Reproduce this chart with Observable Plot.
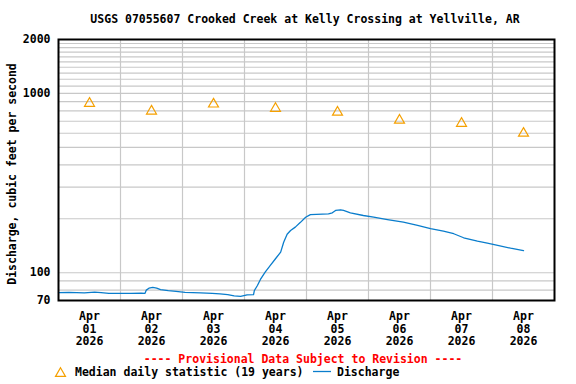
<!DOCTYPE html>
<html>
<head>
<meta charset="utf-8">
<script src="https://cdn.jsdelivr.net/npm/d3@7"></script>
<script src="https://cdn.jsdelivr.net/npm/@observablehq/plot@0.6"></script>
<style>
  html, body { margin: 0; padding: 0; background: #fff; }
  svg { display: block; }
</style>
</head>
<body>
<div id="chart"></div>
<script>
const titleText = "USGS 07055607 Crooked Creek at Kelly Crossing at Yellville, AR";
const yLabelText = "Discharge, cubic feet per second";
const footerText = "---- Provisional Data Subject to Revision ----";
const legendMedian = "Median daily statistic (19 years)";
const legendDischarge = "Discharge";

const dayLabels = ["2026-04-01","2026-04-02","2026-04-03","2026-04-04","2026-04-05","2026-04-06","2026-04-07","2026-04-08"];
const medianValues = [896, 811, 888, 840, 800, 722, 693, 610];

const yTickValues = [70, 100, 1000, 2000];
const yGridValues = [80, 90, 100, 200, 300, 400, 500, 600, 700, 800, 900, 1000,
  1100, 1200, 1300, 1400, 1500, 1600, 1700, 1800, 1900];
const xGridDays = ["2026-04-02","2026-04-03","2026-04-04","2026-04-05","2026-04-06","2026-04-07","2026-04-08"];

const dischargeTimes = [
  "2026-04-01T00:00","2026-04-01T04:00","2026-04-01T10:00","2026-04-01T14:00","2026-04-01T16:30",
  "2026-04-01T19:30","2026-04-02T00:00","2026-04-02T04:00","2026-04-02T08:00","2026-04-02T09:30",
  "2026-04-02T10:00","2026-04-02T11:00","2026-04-02T12:30","2026-04-02T14:00","2026-04-02T15:30",
  "2026-04-02T18:30","2026-04-02T21:30","2026-04-03T01:00","2026-04-03T07:00","2026-04-03T11:30",
  "2026-04-03T14:30","2026-04-03T17:30","2026-04-03T20:00","2026-04-03T22:30","2026-04-04T01:00",
  "2026-04-04T03:30","2026-04-04T03:50","2026-04-04T05:00","2026-04-04T06:10","2026-04-04T08:00",
  "2026-04-04T10:00","2026-04-04T12:00","2026-04-04T14:00","2026-04-04T15:10","2026-04-04T16:30",
  "2026-04-04T17:50","2026-04-04T19:40","2026-04-04T21:40","2026-04-04T23:40","2026-04-05T01:30",
  "2026-04-05T08:30","2026-04-05T10:00","2026-04-05T11:15","2026-04-05T13:10","2026-04-05T14:20",
  "2026-04-05T17:00","2026-04-05T22:00","2026-04-06T02:00","2026-04-06T07:20","2026-04-06T13:30",
  "2026-04-06T19:00","2026-04-07T00:00","2026-04-07T05:00","2026-04-07T09:00","2026-04-07T12:50",
  "2026-04-07T18:10","2026-04-07T22:00","2026-04-08T02:00","2026-04-08T07:00","2026-04-08T12:00"
];
const dischargeValues = [
  77.5, 77.6, 77.3, 78.0, 77.4,
  76.8, 76.8, 76.7, 77.0, 76.8,
  80.0, 82.0, 82.8, 82.0, 80.5,
  79.5, 78.8, 77.8, 77.3, 76.8,
  76.3, 75.5, 74.2, 73.8, 75.3,
  75.4, 79.6, 84.9, 91.7, 100.7,
  109.8, 119.7, 130.3, 148, 164,
  172, 179.6, 191, 204, 211,
  213, 216, 222.5, 224.5, 222.5,
  216, 208.6, 204, 198, 191.4,
  183.5, 176, 170.6, 165, 156.7,
  150, 146.2, 142, 137, 133
];

const FONT = "'DejaVu Sans Mono', 'Liberation Mono', monospace";
const FS = 11.5;
const BLUE = "#0a7dcc";
const ORANGE = "#f5a000";

const utc = s => new Date(s + (s.length === 10 ? "T00:00:00Z" : ":00Z"));
const noon = s => new Date(s + "T12:00:00Z");

const discharge = dischargeTimes.map((t, i) => ({date: utc(t), value: dischargeValues[i]}));
const medians = dayLabels.map((d, i) => ({date: noon(d), value: medianValues[i]}));

const monthNames = ["Jan","Feb","Mar","Apr","May","Jun","Jul","Aug","Sep","Oct","Nov","Dec"];
const fmtX = d => `${monthNames[d.getUTCMonth()]}\n${String(d.getUTCDate()).padStart(2, "0")}\n${d.getUTCFullYear()}`;

const chart = Plot.plot({
  width: 576,
  height: 384,
  marginTop: 39,
  marginBottom: 84,
  marginLeft: 58,
  marginRight: 22,
  style: {fontFamily: FONT, fontSize: FS + "px", fontWeight: "bold", color: "black", background: "white"},
  x: {type: "utc", domain: [utc("2026-04-01"), utc("2026-04-09")], axis: null},
  y: {type: "log", domain: [70, 2000], axis: null},
  marks: [
    Plot.ruleY(yGridValues, {stroke: "#c8c8c8", strokeWidth: 1.2}),
    Plot.ruleX(xGridDays.map(utc), {stroke: "#c8c8c8", strokeWidth: 1.2}),
    Plot.line(discharge, {x: "date", y: "value", stroke: BLUE, strokeWidth: 1.3}),
    Plot.dot(medians, {x: "date", y: "value", symbol: "triangle", r: 3.7, stroke: ORANGE, strokeWidth: 1.2, fill: "none", dy: 1.4}),
    Plot.text(yTickValues, {y: d => d, text: d => String(d), frameAnchor: "left", textAnchor: "end", dx: -8, fill: "black", fontWeight: "bold", clip: false}),
    Plot.text(dayLabels.map(noon), {x: d => d, text: fmtX, frameAnchor: "bottom", lineAnchor: "top", dy: 10, lineHeight: 1.12, fill: "black", fontWeight: "bold", clip: false}),
    Plot.frame({stroke: "black", strokeWidth: 2})
  ]
});

const svg = d3.select(chart);
const addText = (x, y, txt, opts = {}) => svg.append("text")
  .attr("x", x).attr("y", y)
  .attr("text-anchor", opts.anchor || "middle")
  .attr("font-family", FONT).attr("font-size", FS).attr("font-weight", "bold")
  .attr("fill", opts.fill || "black")
  .attr("transform", opts.transform || null)
  .text(txt);

addText(305, 23, titleText);
addText(0, 0, yLabelText, {transform: "translate(16,174) rotate(-90)"});
addText(303, 362.5, footerText, {fill: "#ff0000"});

// legend
svg.append("path")
  .attr("d", d3.symbol(d3.symbolTriangle, Math.PI * 3.7 * 3.7)())
  .attr("transform", "translate(60.5,373.5)")
  .attr("fill", "none").attr("stroke", ORANGE).attr("stroke-width", 1.2);
addText(75, 376, legendMedian, {anchor: "start"});
svg.append("line").attr("x1", 313).attr("x2", 331).attr("y1", 371.5).attr("y2", 371.5)
  .attr("stroke", BLUE).attr("stroke-width", 1.3);
addText(337, 376, legendDischarge, {anchor: "start"});

document.getElementById("chart").appendChild(chart);
</script>
</body>
</html>
